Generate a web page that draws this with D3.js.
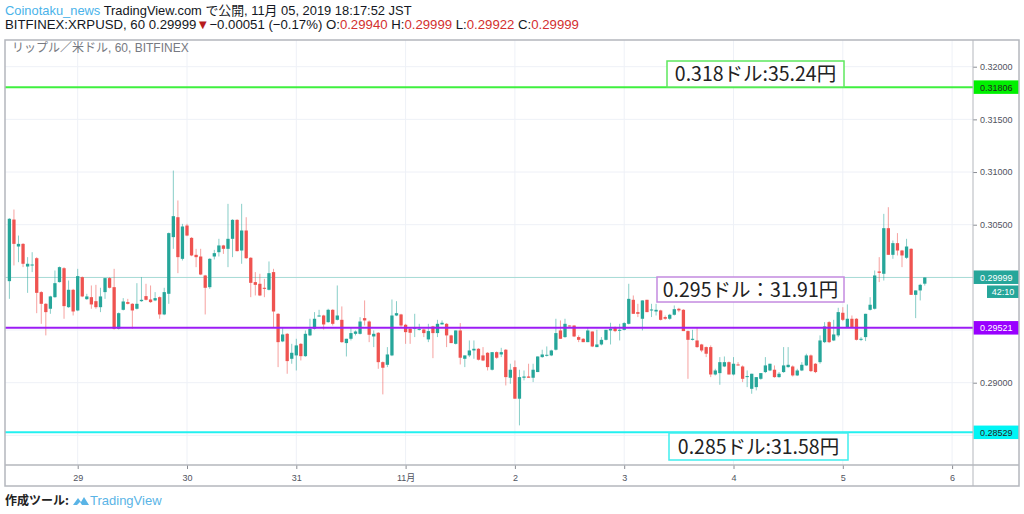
<!DOCTYPE html>
<html>
<head>
<meta charset="utf-8">
<script src="https://cdn.jsdelivr.net/npm/d3@7"></script>
<style>
body { margin: 0; background: #fff; }
svg { display: block; }
</style>
</head>
<body>
<div id="canvas"></div>
<script>
// ----------------------------------------------------------
// DATA -----------------------------------------------------
// ----------------------------------------------------------
// hourly candles, first one = 2019-10-28 09:00
var opens = [
0.29964,0.30549,0.30293,0.30318,0.30103,0.30113,0.30182,0.29860,0.29749,0.29702,
0.29812,0.29955,0.30087,0.29717,0.29882,0.29686,0.30002,0.29793,0.29812,0.29774,
0.29717,0.29860,0.29993,0.29907,0.29512,0.29692,0.29765,0.29749,0.29702,0.29774,
0.29822,0.29790,0.29781,0.29812,0.29648,0.29844,0.30382,0.30571,0.30176,0.30492,
0.30375,0.30214,0.30198,0.30018,0.29907,0.30198,0.30239,0.30303,0.30271,0.30366,
0.30546,0.30255,0.30445,0.30186,0.29955,0.29939,0.29901,0.29882,0.30050,0.29654,
0.29392,0.29464,0.29227,0.29259,0.29369,0.29252,0.29449,0.29512,0.29632,0.29638,
0.29575,0.29692,0.29597,0.29597,0.29376,0.29417,0.29464,0.29464,0.29613,0.29581,
0.29439,0.29474,0.29195,0.29170,0.29259,0.29638,0.29648,0.29550,0.29512,0.29512,
0.29502,0.29505,0.29411,0.29534,0.29471,0.29553,0.29559,0.29449,0.29369,0.29496,
0.29227,0.29259,0.29306,0.29322,0.29259,0.29284,0.29123,0.29290,0.29268,0.29313,
0.29047,0.29148,0.28848,0.29047,0.29059,0.29047,0.29101,0.29243,0.29256,0.29259,
0.29313,0.29496,0.29433,0.29543,0.29543,0.29433,0.29417,0.29385,0.29486,0.29338,
0.29363,0.29407,0.29496,0.29528,0.29496,0.29502,0.29559,0.29787,0.29670,0.29607,
0.29787,0.29686,0.29676,0.29686,0.29623,0.29607,0.29645,0.29702,0.29692,0.29490,
0.29407,0.29401,0.29363,0.29338,0.29338,0.29078,0.29091,0.29154,0.29195,0.29078,
0.29173,0.29154,0.29053,0.28942,0.28958,0.29037,0.29101,0.29116,0.29123,0.29053,
0.29101,0.29148,0.29154,0.29069,0.29116,0.29164,0.29259,0.29180,0.29195,0.29385,
0.29575,0.29401,0.29449,0.29664,0.29528,0.29607,0.29607,0.29407,0.29433,0.29692,
0.29702,0.30056,0.30034,0.30467,0.30214,0.30325,0.30255,0.30186,0.30271,0.29834,
0.29876,0.29940
];
var highs = [
0.30562,0.30644,0.30397,0.30325,0.30192,0.30239,0.30192,0.29869,0.29755,0.29825,
0.30065,0.30103,0.30097,0.29970,0.29891,0.30081,0.30008,0.29844,0.29923,0.29929,
0.29901,0.29993,0.30002,0.30081,0.29667,0.29803,0.29796,0.29755,0.29945,0.30002,
0.29939,0.29923,0.29860,0.29819,0.29901,0.30426,0.31014,0.30730,0.30508,0.30508,
0.30382,0.30271,0.30271,0.30024,0.30182,0.30261,0.30366,0.30309,0.30698,0.30552,
0.30552,0.30698,0.30571,0.30192,0.30050,0.30034,0.29986,0.30151,0.30081,0.29660,
0.29528,0.29471,0.29369,0.29417,0.29376,0.29496,0.29607,0.29670,0.29692,0.29645,
0.29702,0.29698,0.29923,0.29724,0.29417,0.29528,0.29496,0.29622,0.29781,0.29591,
0.29496,0.29480,0.29202,0.29338,0.29790,0.29774,0.29654,0.29559,0.29518,0.29654,
0.29559,0.29512,0.29559,0.29540,0.29597,0.29591,0.29566,0.29455,0.29496,0.29566,
0.29259,0.29401,0.29401,0.29328,0.29338,0.29290,0.29290,0.29297,0.29331,0.29319,
0.29180,0.29211,0.29123,0.29116,0.29180,0.29180,0.29249,0.29313,0.29344,0.29313,
0.29607,0.29591,0.29607,0.29543,0.29543,0.29449,0.29423,0.29521,0.29486,0.29502,
0.29433,0.29502,0.29569,0.29534,0.29559,0.29575,0.29939,0.29828,0.29749,0.29781,
0.29787,0.29749,0.29749,0.29692,0.29638,0.29654,0.29733,0.29711,0.29698,0.29496,
0.29502,0.29528,0.29369,0.29344,0.29354,0.29132,0.29243,0.29249,0.29202,0.29243,
0.29195,0.29164,0.29116,0.29085,0.29053,0.29091,0.29243,0.29180,0.29164,0.29101,
0.29338,0.29338,0.29164,0.29132,0.29195,0.29275,0.29268,0.29186,0.29449,0.29575,
0.29585,0.29597,0.29711,0.29717,0.29743,0.29638,0.29613,0.29433,0.29654,0.29812,
0.30065,0.30192,0.30603,0.30666,0.30350,0.30420,0.30261,0.30366,0.30277,0.29876,
0.29939,0.29999
];
var lows = [
0.29796,0.30113,0.30144,0.30097,0.29853,0.30050,0.29660,0.29559,0.29449,0.29654,
0.29806,0.29951,0.29607,0.29711,0.29638,0.29679,0.29812,0.29787,0.29702,0.29702,
0.29670,0.29796,0.29895,0.29505,0.29505,0.29686,0.29743,0.29512,0.29695,0.29768,
0.29781,0.29758,0.29774,0.29607,0.29641,0.29749,0.30271,0.30040,0.30160,0.30391,
0.30201,0.30097,0.30021,0.29648,0.29891,0.30170,0.30198,0.30223,0.30097,0.30192,
0.30246,0.30129,0.30176,0.29812,0.29828,0.29822,0.29812,0.29876,0.29528,0.29148,
0.29385,0.29085,0.29180,0.29116,0.29211,0.29246,0.29442,0.29505,0.29626,0.29505,
0.29569,0.29543,0.29591,0.29379,0.29249,0.29401,0.29449,0.29458,0.29543,0.29385,
0.29338,0.29132,0.28889,0.29148,0.29252,0.29632,0.29528,0.29369,0.29369,0.29433,
0.29496,0.29433,0.29385,0.29233,0.29433,0.29553,0.29338,0.29376,0.29363,0.29173,
0.29148,0.29243,0.29227,0.29211,0.29205,0.29116,0.29116,0.29227,0.29243,0.28974,
0.28990,0.28848,0.28595,0.29022,0.29047,0.29006,0.29101,0.29237,0.29249,0.29252,
0.29306,0.29417,0.29426,0.29534,0.29433,0.29385,0.29385,0.29385,0.29338,0.29338,
0.29354,0.29401,0.29363,0.29480,0.29401,0.29496,0.29553,0.29654,0.29623,0.29496,
0.29670,0.29623,0.29638,0.29591,0.29597,0.29597,0.29638,0.29670,0.29490,0.29037,
0.29401,0.29331,0.29290,0.29243,0.29053,0.29069,0.28980,0.29148,0.29078,0.29069,
0.29164,0.29006,0.28958,0.28895,0.28927,0.29028,0.29091,0.29110,0.29047,0.29047,
0.29094,0.29142,0.29059,0.29063,0.29110,0.29158,0.29101,0.29091,0.29180,0.29376,
0.29376,0.29395,0.29433,0.29585,0.29521,0.29521,0.29401,0.29395,0.29395,0.29686,
0.29695,0.29955,0.29970,0.30214,0.30176,0.30208,0.30097,0.30176,0.29834,0.29613,
0.29781,0.29922
];
var closes = [
0.30556,0.30318,0.30318,0.30129,0.30129,0.30122,0.29853,0.29749,0.29670,0.29819,
0.29945,0.30097,0.29727,0.29882,0.29676,0.30012,0.29819,0.29819,0.29743,0.29717,
0.29819,0.29993,0.29901,0.29512,0.29660,0.29771,0.29749,0.29686,0.29749,0.29787,
0.29787,0.29765,0.29803,0.29648,0.29860,0.30420,0.30581,0.30192,0.30483,0.30397,
0.30208,0.30192,0.30027,0.29901,0.30176,0.30230,0.30303,0.30271,0.30366,0.30546,
0.30249,0.30445,0.30182,0.29948,0.29929,0.29828,0.29891,0.30040,0.29676,0.29385,
0.29458,0.29205,0.29284,0.29354,0.29252,0.29464,0.29512,0.29607,0.29638,0.29553,
0.29692,0.29559,0.29638,0.29385,0.29417,0.29471,0.29486,0.29581,0.29591,0.29455,
0.29464,0.29195,0.29142,0.29268,0.29638,0.29660,0.29543,0.29480,0.29474,0.29521,
0.29512,0.29471,0.29490,0.29471,0.29559,0.29569,0.29449,0.29376,0.29496,0.29237,
0.29259,0.29306,0.29322,0.29218,0.29211,0.29148,0.29290,0.29237,0.29290,0.29053,
0.29123,0.28848,0.29053,0.29059,0.29047,0.29123,0.29249,0.29268,0.29265,0.29306,
0.29471,0.29417,0.29559,0.29534,0.29439,0.29407,0.29385,0.29496,0.29344,0.29363,
0.29407,0.29502,0.29512,0.29490,0.29502,0.29566,0.29796,0.29654,0.29654,0.29781,
0.29670,0.29695,0.29692,0.29597,0.29607,0.29645,0.29698,0.29686,0.29490,0.29407,
0.29417,0.29338,0.29306,0.29275,0.29078,0.29116,0.29195,0.29195,0.29078,0.29180,
0.29170,0.29037,0.29063,0.29085,0.29053,0.29091,0.29164,0.29180,0.29053,0.29085,
0.29164,0.29170,0.29069,0.29116,0.29170,0.29259,0.29110,0.29101,0.29401,0.29534,
0.29385,0.29458,0.29670,0.29597,0.29607,0.29528,0.29407,0.29417,0.29654,0.29740,
0.30018,0.30043,0.30467,0.30214,0.30325,0.30255,0.30208,0.30293,0.29834,0.29876,
0.29929,0.29999
];

var gridPrices = [0.285, 0.29, 0.295, 0.30, 0.305, 0.31, 0.315, 0.32];
var priceTicks = [0.29, 0.305, 0.31, 0.315, 0.32]; // the others sit under the price tags
var dayLabels = ["29", "30", "31", "11月", "2", "3", "4", "5", "6"];
var levelPrices = [0.31806, 0.29521, 0.28529];
var levelNotes = ["0.318ドル:35.24円", "0.295ドル：31.91円", "0.285ドル:31.58円"];
var lastPrice = 0.29999;
var countdown = "42:10";

// ----------------------------------------------------------
// STRUCTURE ------------------------------------------------
// ----------------------------------------------------------
var W = 1024, H = 514;
var pane = { left: 5, right: 973, top: 40, bottom: 465, axisBottom: 486, outerRight: 1019 };
var col_up = "#26a69a", col_down = "#ef5350";
var level_line = ["#3ff03f", "#9c1cf5", "#22f0f0"];
var level_tag = ["#00f000", "#9900ff", "#00f5f5"];
var level_tag_text = ["#222", "#fff", "#222"];
var level_box = ["#5ee85e", "#c48be0", "#40eeee"];
var jp = "'Noto Sans CJK JP', 'Noto Sans', sans-serif";
var sans = "'Liberation Sans', 'Noto Sans CJK JP', sans-serif";

var svg = d3.select("#canvas").append("svg")
.attr("width", W)
.attr("height", H)
.style("background-color", "#fff");

var t0 = Date.UTC(2019, 9, 28, 9);
var candles = opens.map(function (o, i) {
return { t: new Date(t0 + i * 3600000), o: o, h: highs[i], l: lows[i], c: closes[i] };
});

var x = d3.scaleUtc()
.domain([new Date(Date.UTC(2019, 9, 29)), new Date(Date.UTC(2019, 10, 6))])
.range([77.7, 952.1]);

var y = d3.scaleLinear()
.domain([0.29, 0.32])
.range([382.7, 66.7]);

// clip for the pane
svg.append("clipPath").attr("id", "paneclip")
.append("rect")
.attr("x", pane.left).attr("y", pane.top)
.attr("width", pane.right - pane.left).attr("height", pane.bottom - pane.top);

// ----------------------------------------------------------
// GRID -----------------------------------------------------
// ----------------------------------------------------------
var days = d3.utcDay.range(new Date(Date.UTC(2019, 9, 29)), new Date(Date.UTC(2019, 10, 7)));
var grid = svg.append("g").attr("class", "grid");

grid.selectAll(".vgrid").data(days).enter().append("line")
.attr("x1", function (d) { return x(d); })
.attr("x2", function (d) { return x(d); })
.attr("y1", pane.top).attr("y2", pane.bottom)
.style("stroke", "#eef1f7").style("stroke-width", 1);

grid.selectAll(".hgrid").data(gridPrices).enter().append("line")
.attr("x1", pane.left).attr("x2", pane.right)
.attr("y1", function (d) { return y(d); })
.attr("y2", function (d) { return y(d); })
.style("stroke", "#eef1f7").style("stroke-width", 1);

// ----------------------------------------------------------
// CANDLES --------------------------------------------------
// ----------------------------------------------------------
var plot = svg.append("g").attr("clip-path", "url(#paneclip)");

// last price line
plot.append("line")
.attr("x1", pane.left).attr("x2", pane.right)
.attr("y1", y(lastPrice)).attr("y2", y(lastPrice))
.style("stroke", "#a8dcd6").style("stroke-width", 1);

var bw = 3.3;
var candle = plot.selectAll(".candle").data(candles).enter().append("g");

candle.append("line")
.attr("x1", function (d) { return x(d.t); })
.attr("x2", function (d) { return x(d.t); })
.attr("y1", function (d) { return y(d.h); })
.attr("y2", function (d) { return y(d.l); })
.style("stroke", function (d) { return d.c >= d.o ? col_up : col_down; })
.style("stroke-opacity", 0.55)
.style("stroke-width", 1);

candle.append("rect")
.attr("x", function (d) { return x(d.t) - bw / 2; })
.attr("width", bw)
.attr("y", function (d) { return y(Math.max(d.o, d.c)); })
.attr("height", function (d) { return Math.max(1, Math.abs(y(d.o) - y(d.c))); })
.style("fill", function (d) { return d.c >= d.o ? col_up : col_down; });

// level lines
plot.selectAll(".level").data(levelPrices).enter().append("line")
.attr("x1", pane.left).attr("x2", pane.right)
.attr("y1", function (d) { return y(d); })
.attr("y2", function (d) { return y(d); })
.style("stroke", function (d, i) { return level_line[i]; })
.style("stroke-width", 2);

// note boxes
var boxes = [
{ x0: 667, x1: 844, y0: 61, y1: 87 },
{ x0: 657, x1: 844, y0: 277, y1: 302 },
{ x0: 669, x1: 848, y0: 433, y1: 460 }
];
var notes = svg.selectAll(".note").data(levelNotes).enter().append("g");
notes.append("rect")
.attr("x", function (d, i) { return boxes[i].x0; })
.attr("y", function (d, i) { return boxes[i].y0; })
.attr("width", function (d, i) { return boxes[i].x1 - boxes[i].x0; })
.attr("height", function (d, i) { return boxes[i].y1 - boxes[i].y0; })
.style("fill", "#fff")
.style("stroke", function (d, i) { return level_box[i]; })
.style("stroke-width", 1.5);
notes.append("text")
.attr("x", function (d, i) { return (boxes[i].x0 + boxes[i].x1) / 2; })
.attr("y", function (d, i) { return (boxes[i].y0 + boxes[i].y1) / 2 + 7; })
.attr("text-anchor", "middle")
.style("font-family", jp)
.style("font-size", "19.5px")
.style("fill", "#222")
.text(function (d) { return d; });

// ----------------------------------------------------------
// AXES -----------------------------------------------------
// ----------------------------------------------------------
var yAxis = svg.append("g")
.attr("transform", "translate(" + pane.right + ",0)")
.call(d3.axisRight(y).tickValues(priceTicks).tickSize(4).tickPadding(3)
.tickFormat(d3.format(".5f")));
yAxis.select(".domain").remove();
yAxis.selectAll("line").style("stroke", "#8a8d94");
yAxis.selectAll("text").style("font-family", sans).style("font-size", "9px").style("fill", "#50535e");

var xAxis = svg.append("g")
.attr("transform", "translate(0," + pane.bottom + ")")
.call(d3.axisBottom(x).tickValues(days).tickSize(4).tickPadding(6)
.tickFormat(function (d, i) { return dayLabels[i]; }));
xAxis.select(".domain").remove();
xAxis.selectAll("line").style("stroke", "#8a8d94");
xAxis.selectAll("text").style("font-family", sans).style("font-size", "9px").style("fill", "#50535e");

// price tags on the axis
var tagH = 13.5;
var tags = svg.selectAll(".tag").data(levelPrices).enter().append("g");
tags.append("rect")
.attr("x", pane.right + 0.5).attr("width", pane.outerRight - pane.right - 0.5)
.attr("y", function (d) { return y(d) - tagH / 2; })
.attr("height", tagH)
.style("fill", function (d, i) { return level_tag[i]; });
tags.append("text")
.attr("x", pane.right + 7)
.attr("y", function (d) { return y(d) + 3.5; })
.style("font-family", sans).style("font-size", "9px")
.style("fill", function (d, i) { return level_tag_text[i]; })
.text(function (d) { return d3.format(".5f")(d); });

svg.append("rect")
.attr("x", pane.right + 0.5).attr("width", pane.outerRight - pane.right - 0.5)
.attr("y", y(lastPrice) - 7).attr("height", 13.5)
.style("fill", col_up);
svg.append("text")
.attr("x", pane.right + 7).attr("y", y(lastPrice) + 3.5)
.style("font-family", sans).style("font-size", "9px").style("fill", "#fff")
.text(d3.format(".5f")(lastPrice));
svg.append("rect")
.attr("x", 987).attr("width", pane.outerRight - 987)
.attr("y", y(lastPrice) + 8).attr("height", 12.5)
.style("fill", col_up);
svg.append("text")
.attr("x", 1003).attr("y", y(lastPrice) + 17.5)
.attr("text-anchor", "middle")
.style("font-family", sans).style("font-size", "9px").style("fill", "#fff")
.text(countdown);

// frame
var frame = svg.append("g").style("stroke", "#b4b7bd").style("fill", "none");
frame.append("rect")
.attr("x", pane.left).attr("y", pane.top)
.attr("width", pane.outerRight - pane.left).attr("height", pane.axisBottom - pane.top)
.style("stroke-width", 1.5);
frame.append("line")
.attr("x1", pane.left).attr("x2", pane.outerRight)
.attr("y1", pane.bottom).attr("y2", pane.bottom)
.style("stroke-width", 1.5);
frame.append("line")
.attr("x1", pane.right).attr("x2", pane.right)
.attr("y1", pane.top).attr("y2", pane.axisBottom)
.style("stroke-width", 1);

// ----------------------------------------------------------
// TEXT -----------------------------------------------------
// ----------------------------------------------------------
var head1 = svg.append("text").attr("x", 5).attr("y", 15)
.style("font-family", sans).style("font-size", "12.9px").style("fill", "#131722");
head1.append("tspan").style("fill", "#4ab3ea").text("Coinotaku_news");
head1.append("tspan").text(" TradingView.com で公開, 11月 05, 2019 18:17:52 JST");

var head2 = svg.append("text").attr("x", 5).attr("y", 29)
.style("font-family", sans).style("font-size", "13.2px").style("fill", "#131722");
head2.append("tspan").text("BITFINEX:XRPUSD, 60 0.29999");
head2.append("tspan").style("fill", "#b71c1c").text("▼");
head2.append("tspan").text("−0.00051 (−0.17%) O:");
head2.append("tspan").style("fill", "#d32f2f").text("0.29940");
head2.append("tspan").text(" H:");
head2.append("tspan").style("fill", "#d32f2f").text("0.29999");
head2.append("tspan").text(" L:");
head2.append("tspan").style("fill", "#d32f2f").text("0.29922");
head2.append("tspan").text(" C:");
head2.append("tspan").style("fill", "#d32f2f").text("0.29999");

svg.append("text").attr("x", 12).attr("y", 52)
.style("font-family", sans).style("font-size", "12px").style("fill", "#777a82")
.text("リップル／米ドル, 60, BITFINEX");

// footer
svg.append("text").attr("x", 5).attr("y", 505)
.style("font-family", jp).style("font-size", "12px").style("font-weight", "bold").style("fill", "#222")
.text("作成ツール:");
var logo = svg.append("g").attr("transform", "translate(73,495)");
logo.append("path")
.attr("d", "M0,10 L5,3 L8,7 L11,2 L16,10 Z")
.style("fill", "#5ab4e6");
logo.append("path")
.attr("d", "M4,10 L7,7 L9,10 Z")
.style("fill", "#fff");
svg.append("text").attr("x", 90).attr("y", 505)
.style("font-family", sans).style("font-size", "13px").style("fill", "#5ab4e6")
.text("TradingView");
</script>
</body>
</html>
